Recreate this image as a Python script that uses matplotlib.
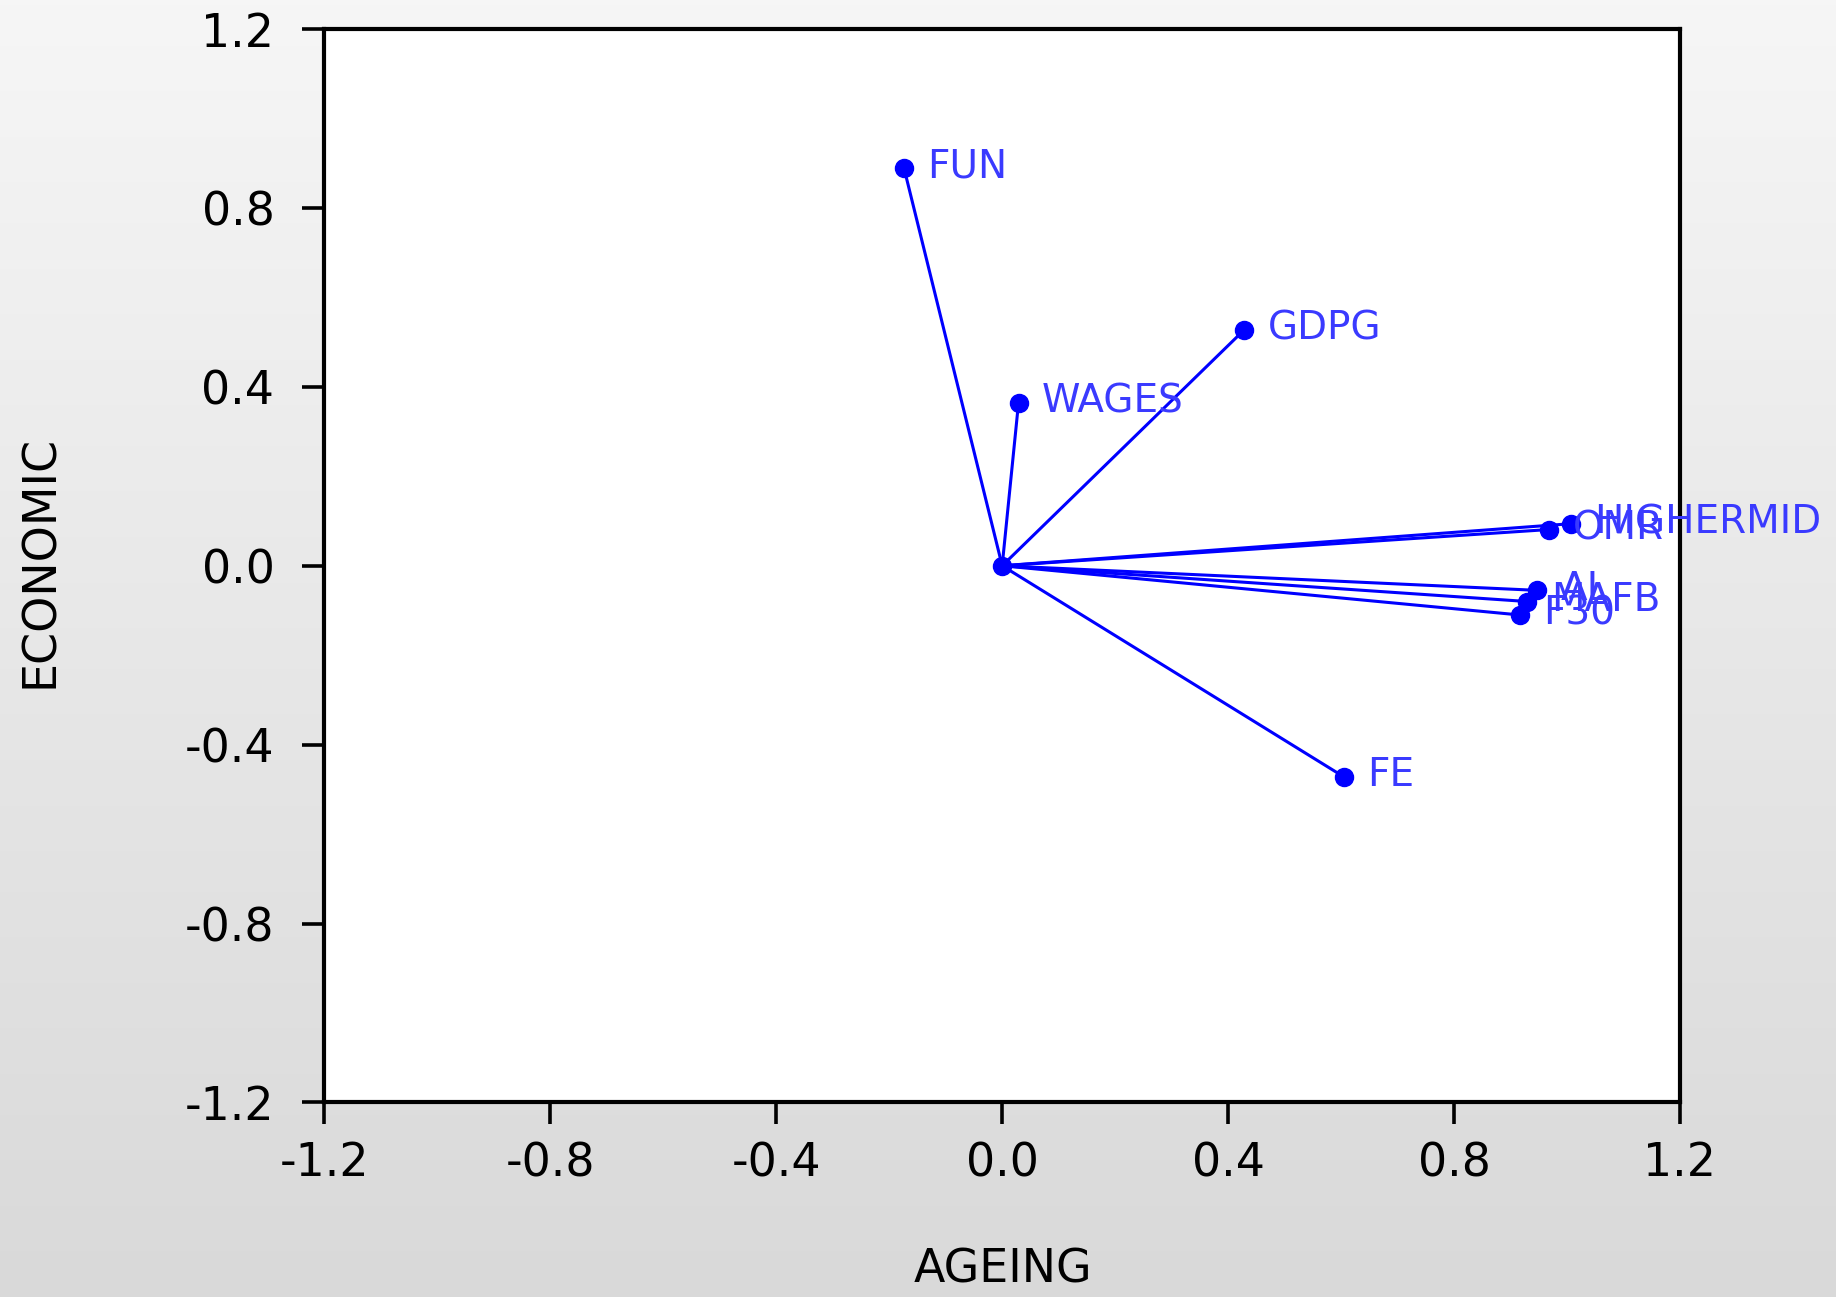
import numpy as np
import matplotlib
matplotlib.use("Agg")
import matplotlib.pyplot as plt
from matplotlib.colors import LinearSegmentedColormap

labels = ["FUN", "GDPG", "WAGES", "FE", "HIGHERMID", "OMR", "AL", "MAFB", "F30"]
ageing = [-0.174, 0.429, 0.029, 0.605, 1.007, 0.968, 0.947, 0.930, 0.916]
economic = [0.890, 0.528, 0.365, -0.472, 0.094, 0.081, -0.055, -0.080, -0.110]
ticks = [-1.2, -0.8, -0.4, 0.0, 0.4, 0.8, 1.2]

plt.rcParams['font.family'] = ['DejaVu Sans']

fig = plt.figure(figsize=(18.36, 12.97), dpi=100)

# gradient background
bg = fig.add_axes([0, 0, 1, 1], zorder=-10)
grad = np.linspace(0, 1, 256).reshape(-1, 1)
cmap = LinearSegmentedColormap.from_list("g", ["#f6f6f6", "#d9d9d9"])
bg.imshow(grad, aspect='auto', cmap=cmap, extent=[0, 1, 0, 1], origin='upper')
bg.axis('off')

ax = fig.add_axes([0.1767, 0.150, 0.7383, 0.8276])
ax.set_facecolor('white')
blue = '#0000ff'
for x, y, lab in zip(ageing, economic, labels):
    ax.plot([0, x], [0, y], color=blue, lw=2.2, zorder=2)
    ax.plot([x], [y], marker='o', color=blue, ms=13, zorder=3)
    ax.annotate(lab, (x, y), xytext=(17, 1), textcoords='offset points',
                ha='left', va='center', fontsize=28, color='#3a3aff', zorder=4)
ax.plot([0], [0], marker='o', color=blue, ms=13, zorder=3)

ax.set_xlim(-1.2, 1.2)
ax.set_ylim(-1.2, 1.2)
ax.set_xticks(ticks)
ax.set_yticks(ticks)
ax.set_xticklabels([f"{t:.1f}" for t in ticks])
ax.set_yticklabels([f"{t:.1f}" for t in ticks])
ax.tick_params(direction='out', length=16, width=2.6, labelsize=33, colors='black')
ax.tick_params(axis='x', pad=12)
ax.tick_params(axis='y', pad=20)
for s in ax.spines.values():
    s.set_linewidth(3.0)
    s.set_color('black')

fig.text(0.546, 0.021, "AGEING", ha='center', va='center', fontsize=33)
fig.text(0.022, 0.567, "ECONOMIC", ha='center', va='center', fontsize=33, rotation=90)

fig.savefig("out.png", dpi=100)
